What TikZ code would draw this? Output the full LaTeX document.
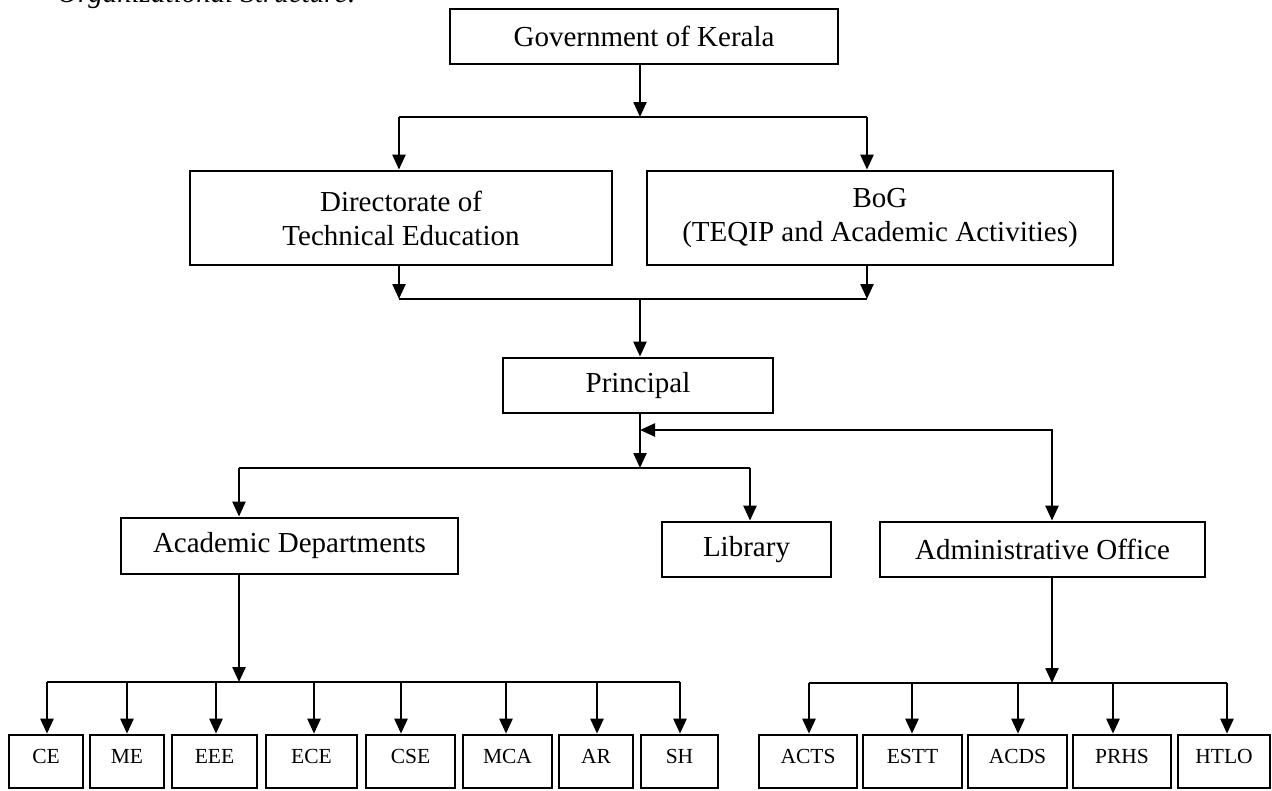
\documentclass[tikz,border=0pt]{standalone}
\usepackage{fontspec}
\setmainfont{Liberation Serif}
\usetikzlibrary{arrows.meta}
\begin{document}
\begin{tikzpicture}[x=1pt,y=-1pt,
  box/.style={draw, line width=2.8pt, inner sep=0pt, font=\fontsize{29}{34}\selectfont, align=center},
  sbox/.style={draw, line width=2.6pt, inner sep=0pt, font=\fontsize{21.5}{25}\selectfont, text height=14pt, text depth=11pt, minimum height=53pt},
  conn/.style={line width=2.4pt},
  arr/.style={conn, -{Triangle[width=13pt,length=15pt]}},
  darr/.style={conn, {Triangle[width=13pt,length=15pt]}-{Triangle[width=13pt,length=15pt]}}]
\useasboundingbox (0,0) rectangle (1272,790);
\clip (0,0) rectangle (1272,790);
\node[anchor=base west, inner sep=0pt, font=\fontsize{29}{34}\selectfont\itshape] (title) at (57,2) {Organizational Structure:};
% main boxes
\node[box, minimum width=388pt, minimum height=55pt] (gov) at (644,36.5) {Government of Kerala};
\node[box, minimum width=422pt, minimum height=94pt] (dte) at (401,218) {Directorate of\\Technical Education};
\node[box, minimum width=466pt, minimum height=94pt] (bog) at (880,218) {BoG\\(TEQIP and Academic Activities)};
\node[box, minimum width=270pt, minimum height=55pt] (prin) at (638,385.5) {Principal};
\node[box, minimum width=337pt, minimum height=56pt] (acad) at (289.5,546) {Academic Departments};
\node[box, minimum width=169pt, minimum height=55pt] (lib) at (746.5,549.5) {Library};
\node[box, minimum width=325pt, minimum height=55pt] (admin) at (1042.5,549.5) {Administrative Office};
% bottom boxes
\foreach \n/\l/\r/\t in {ce/9/83/CE, me/90/164/ME, eee/172/257/EEE, ece/266/357/ECE, cse/366/455/CSE, mca/463/552/MCA, ar/559/633/AR, sh/641/718/SH, acts/759/857/ACTS, estt/863/962/ESTT, acds/968/1067/ACDS, prhs/1073/1171/PRHS, htlo/1178/1270/HTLO}
  \node[sbox, minimum width={\r-\l}] (\n) at ({(\l+\r)/2},761.5) {\t};
% Government -> DTE / BoG
\coordinate (b1) at (640,117);
\coordinate (b1L) at (399,117);
\coordinate (b1R) at (867,117);
\draw[arr] (gov.south -| b1) -- (b1);
\draw[conn] (b1L) -- (b1R);
\draw[arr] (b1L) -- (b1L |- dte.north);
\draw[arr] (b1R) -- (b1R |- bog.north);
% DTE / BoG -> Principal
\coordinate (b2) at (640,299);
\coordinate (b2L) at (399,299);
\coordinate (b2R) at (867,299);
\draw[arr] (b2L |- dte.south) -- (b2L);
\draw[arr] (b2R |- bog.south) -- (b2R);
\draw[conn] (b2L) -- (b2R);
\draw[arr] (b2) -- (b2 |- prin.north);
% Principal -> Academic / Library ; Principal <-> Admin
\coordinate (p1) at (640,430);
\coordinate (a1) at (1052,430);
\coordinate (b3) at (640,468);
\coordinate (b3L) at (239,468);
\coordinate (b3R) at (750,468);
\draw[arr] (prin.south -| b3) -- (b3);
\draw[darr] (p1) -- (a1) -- (a1 |- admin.north);
\draw[conn] (b3L) -- (b3R);
\draw[arr] (b3L) -- (b3L |- acad.north);
\draw[arr] (b3R) -- (b3R |- lib.north);
% Academic -> departments
\coordinate (b4) at (239,682);
\coordinate (b4L) at (47,682);
\coordinate (b4R) at (680,682);
\draw[arr] (acad.south -| b4) -- (b4);
\draw[conn] (b4L) -- (b4R);
\foreach \n/\x in {ce/47, me/127, eee/216, ece/314, cse/401, mca/506, ar/597, sh/680} {
  \coordinate (t) at (\x,682);
  \draw[arr] (t) -- (t |- \n.north);
}
% Admin -> sections
\coordinate (b5) at (1052,683);
\coordinate (b5L) at (809,683);
\coordinate (b5R) at (1227,683);
\draw[arr] (admin.south -| b5) -- (b5);
\draw[conn] (b5L) -- (b5R);
\foreach \n/\x in {acts/809, estt/912, acds/1018, prhs/1113, htlo/1227} {
  \coordinate (t) at (\x,683);
  \draw[arr] (t) -- (t |- \n.north);
}
\end{tikzpicture}
\end{document}
